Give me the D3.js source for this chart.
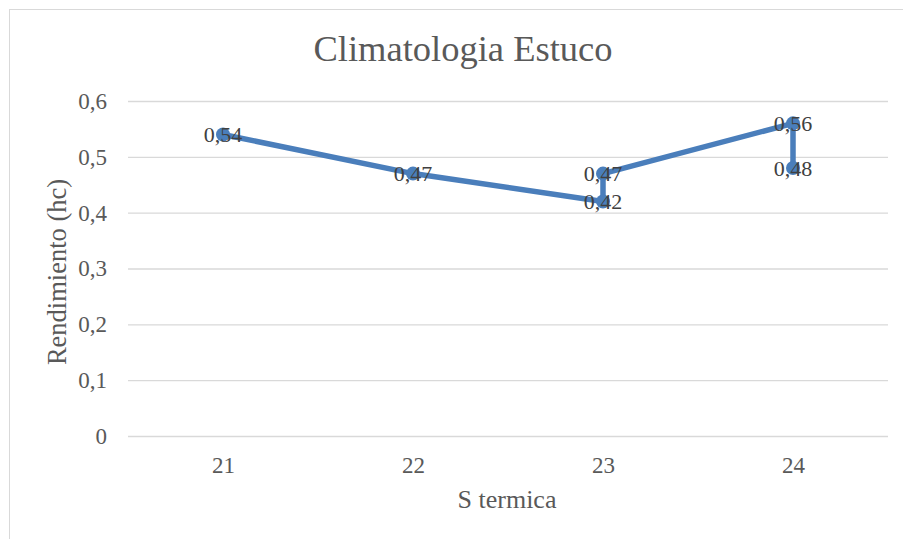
<!DOCTYPE html>
<html><head><meta charset="utf-8">
<script src="https://cdn.jsdelivr.net/npm/d3@7"></script>
<style>body{margin:0;background:#fff}svg{display:block}</style>
</head><body>
<svg id="c" width="903" height="539" font-family="Liberation Serif"></svg>
<script>
const xValues = [21, 22, 23, 23, 24, 24];
const yValues = [0.54, 0.47, 0.42, 0.47, 0.56, 0.48];
const xTicks = [21, 22, 23, 24];
const yTicks = [0, 0.1, 0.2, 0.3, 0.4, 0.5, 0.6];
const title = "Climatologia Estuco";
const xTitle = "S termica";
const yTitle = "Rendimiento (hc)";

const svg = d3.select("#c");
const font = "Liberation Serif";
const txt = "#595959";
svg.append("rect").attr("x",9.5).attr("y",9.5).attr("width",905).attr("height",540)
  .attr("fill","#fff").attr("stroke","#d9d9d9");

const m = {l:128, r:888, t:101, b:436};
const x = d3.scaleLinear().domain([20.5,24.5]).range([m.l,m.r]);
const y = d3.scaleLinear().domain([0,0.6]).range([m.b,m.t]);
const fmt = v => String(+v.toFixed(2)).replace(".", ",");

const ya = svg.append("g").attr("transform",`translate(${m.l},0)`)
  .call(d3.axisLeft(y).tickValues(yTicks).tickSize(-(m.r-m.l)).tickPadding(21).tickFormat(fmt));
ya.attr("font-family",font).attr("font-size",23);
ya.select(".domain").remove();
ya.selectAll("line").attr("stroke","#d9d9d9").attr("stroke-width",1.3);
ya.selectAll("text").attr("fill",txt);

const xa = svg.append("g").attr("transform",`translate(0,${m.b})`)
  .call(d3.axisBottom(x).tickValues(xTicks).tickSize(0).tickPadding(21).tickFormat(d=>d));
xa.attr("font-family",font).attr("font-size",23);
xa.select(".domain").remove();
xa.selectAll("text").attr("fill",txt);

const pts = xValues.map((v,i)=>[v,yValues[i]]);
svg.append("path").datum(pts)
  .attr("d", d3.line().x(d=>x(d[0])).y(d=>y(d[1])))
  .attr("fill","none").attr("stroke","#4a7ebb").attr("stroke-width",5.5).attr("stroke-linejoin","round");
svg.selectAll("circle.p").data(pts).join("circle")
  .attr("cx",d=>x(d[0])).attr("cy",d=>y(d[1])).attr("r",7).attr("fill","#4a7ebb");
svg.selectAll("text.lab").data(pts).join("text")
  .attr("x",d=>x(d[0])).attr("y",d=>y(d[1])).attr("dy","0.35em")
  .attr("text-anchor","middle").attr("fill","#404040")
  .attr("font-family",font).attr("font-size",22).text(d=>fmt(d[1]));

svg.append("text").attr("x",463).attr("y",61).attr("text-anchor","middle")
  .attr("fill",txt).attr("font-family",font).attr("font-size",36.5).text(title);
svg.append("text").attr("x",507).attr("y",508).attr("text-anchor","middle")
  .attr("fill",txt).attr("font-family",font).attr("font-size",26).text(xTitle);
svg.append("text").attr("transform","translate(66,272) rotate(-90)").attr("text-anchor","middle")
  .attr("fill",txt).attr("font-family",font).attr("font-size",26.5).text(yTitle);
</script>
</body></html>
